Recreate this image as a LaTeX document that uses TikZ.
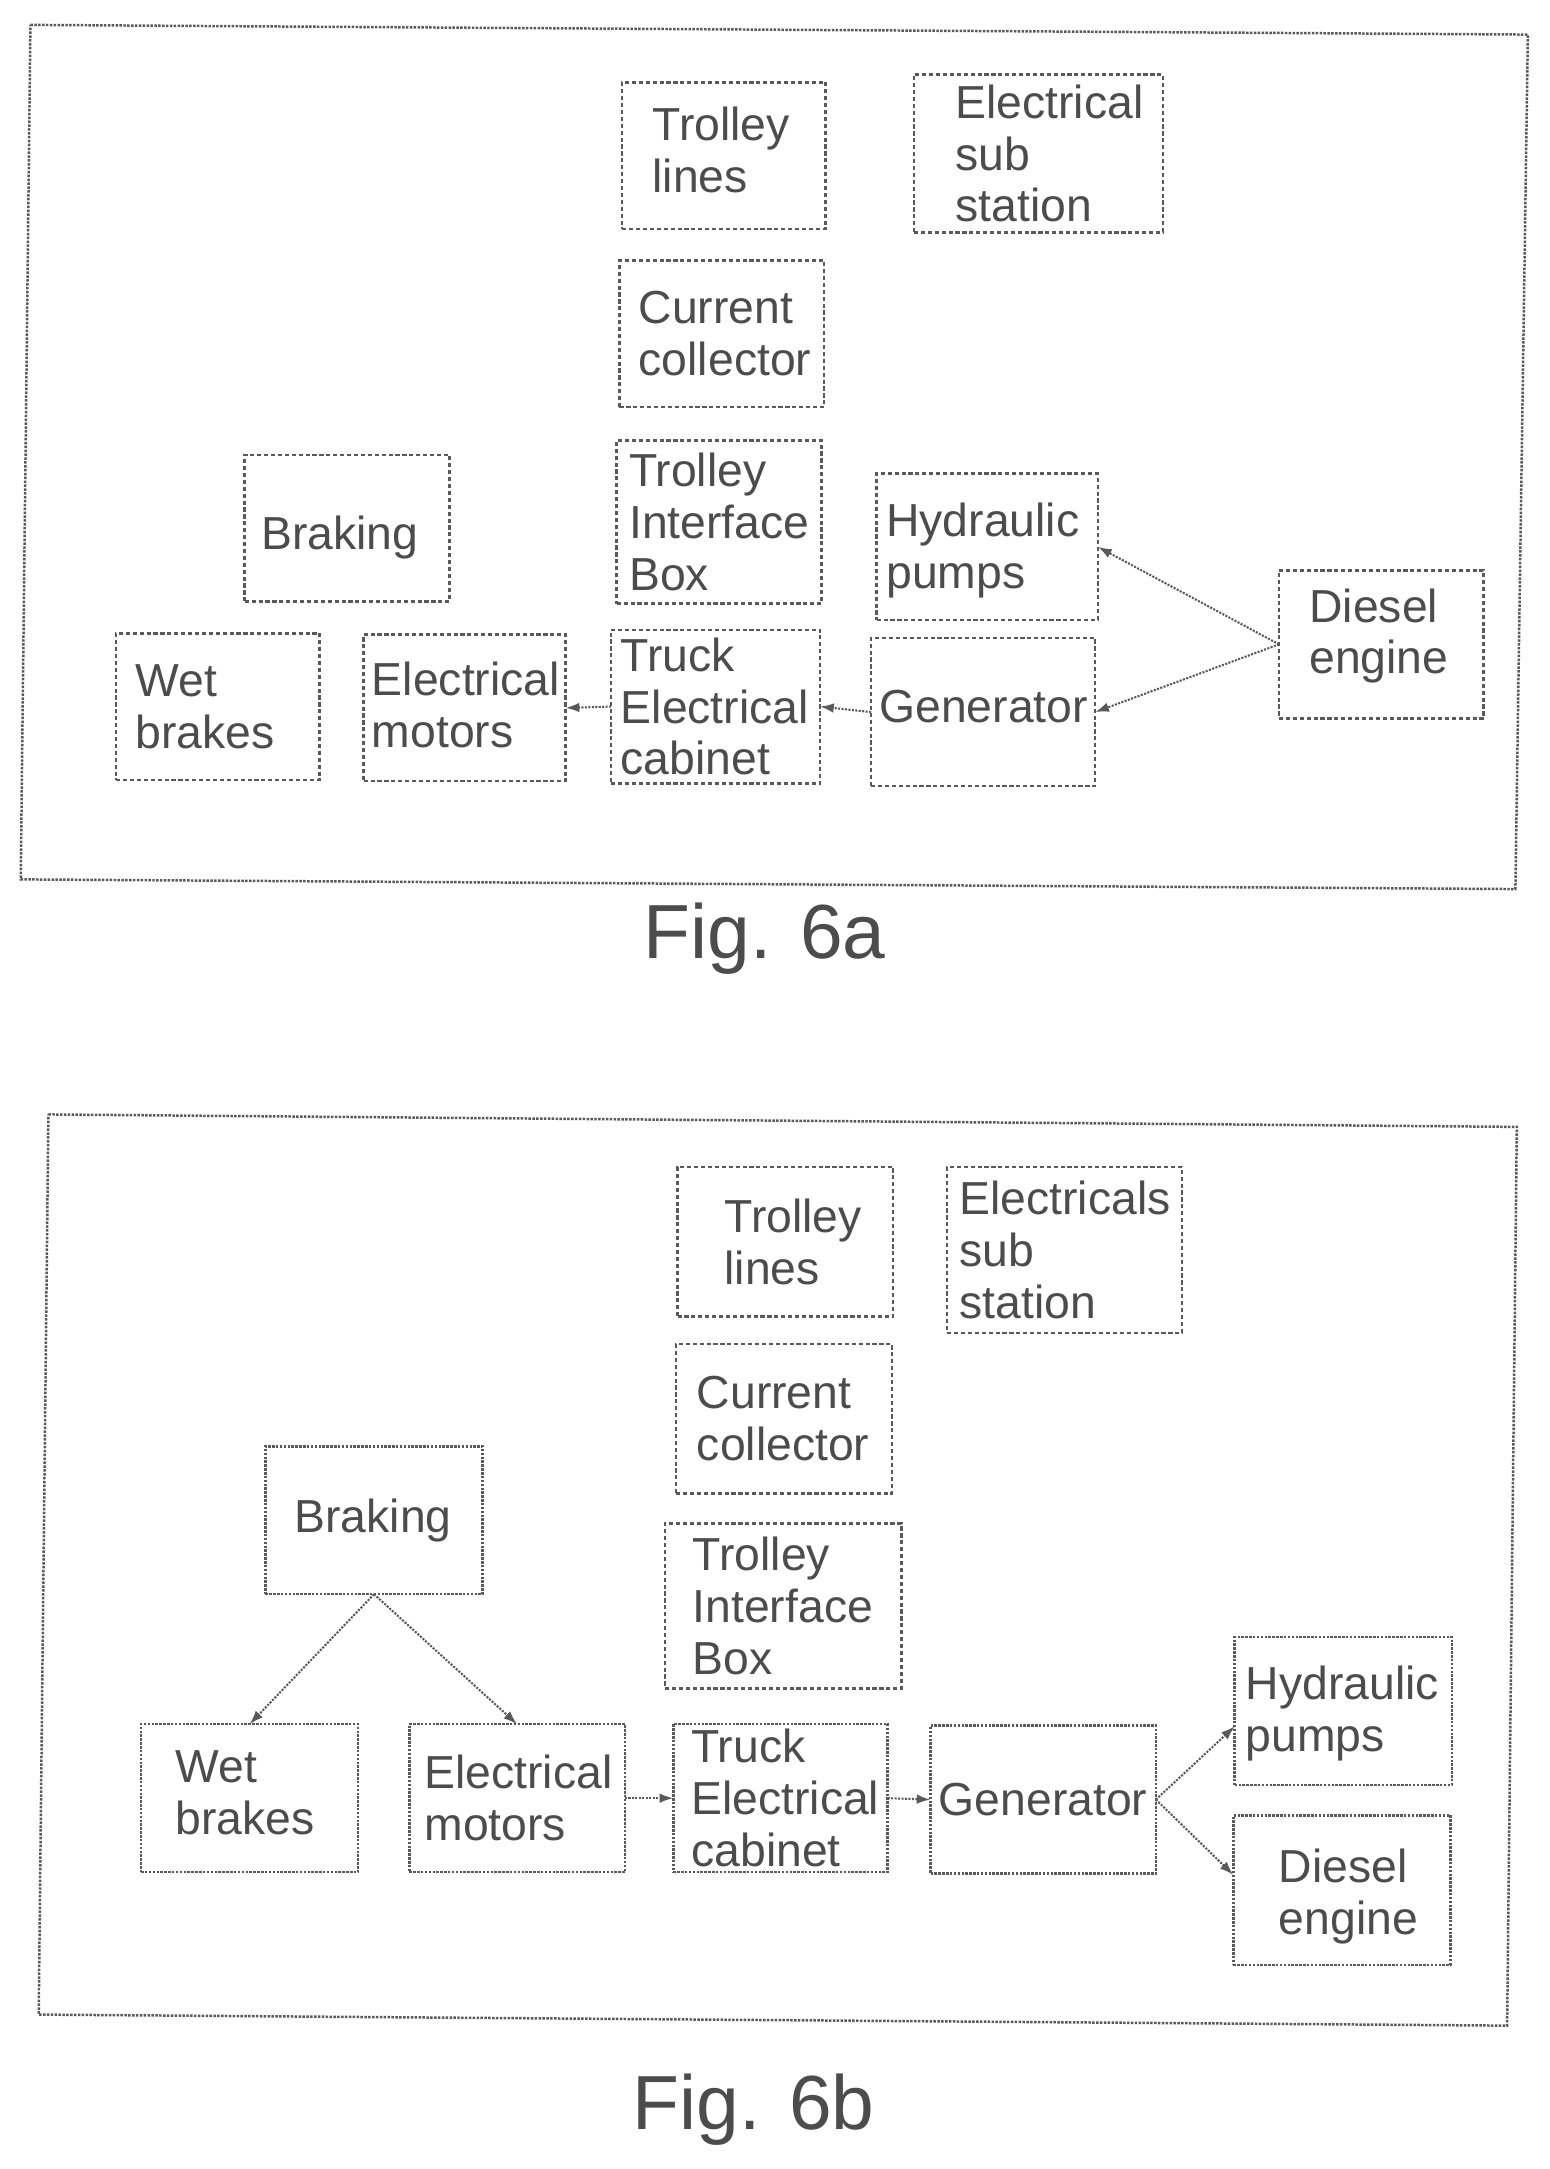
\documentclass[tikz,border=0pt]{standalone}
\usepackage{fontspec}
\setmainfont{Liberation Sans}
\usepackage{tikz}
\usetikzlibrary{arrows.meta}
\usetikzlibrary{positioning}
\usepackage{xcolor}

\begin{document}
\begin{tikzpicture}[x=1pt,y=-1pt]
		\tikzstyle{panel} = [draw=black!65, line width=1.8pt, densely dotted]
		\tikzstyle{unit} = [rectangle, draw=black!65, line width=1.8pt, densely dashed, outer sep=0pt, inner ysep=0pt,
		font=\fontsize{33.5}{37.5}\selectfont, text=black!70, minimum height=106pt, align=left]
		\tikzstyle{solidunit} = [unit, densely dotted]
		\tikzset{boxed/.style 2 args={minimum width=#1pt, inner xsep=#2pt, text width=#1pt-2*#2pt}}
		\tikzset{pushdown/.style={execute at begin node={\rule{0pt}{#1}}}}
		\tikzset{pushup/.style={execute at end node={\par\vspace*{#1}}}}
		\tikzstyle{caption} = [font=\fontsize{55.5}{60}\selectfont, text=black!70]
		\tikzstyle{line} = [draw=black!65, line width=1.5pt, densely dotted, -{Latex[length=10pt, width=7pt]}]
		\useasboundingbox (0,0) rectangle (1121,1568.7);

		% Panel 6a
		\coordinate (pa1) at (22,18);
		\coordinate (pa2) at (1105,25);
		\coordinate (pa3) at (1096,643);
		\coordinate (pa4) at (15,636);
		\draw [panel] (pa1) -- (pa2) -- (pa3) -- (pa4) -- cycle;

		% Supply column
		\node [unit, boxed={147}{22}, pushup=8pt] (tla) at (523.5,112.5) {Trolley\\lines};
		\node [unit, boxed={180}{30}, minimum height=114pt, right=64pt of tla.east, yshift=1.5pt] (ssa) {Electrical\\sub\\station};
		\node [unit, boxed={148}{14}, below=23pt of tla.south, xshift=-1.5pt] (cca) {Current\\collector};
		\node [unit, boxed={148}{9}, minimum height=118pt, below=24pt of cca.south, xshift=-2pt] (iba) {Trolley\\Interface\\Box};

		% Lower row
		\node [unit, boxed={151}{7}, minimum height=111pt, below=19pt of iba.south, xshift=-2.5pt] (tca) {Truck\\Electrical\\cabinet};
		\node [unit, boxed={146}{6}, left=33pt of tca.west, yshift=-1pt, pushup=4pt] (ema) {Electrical\\motors};
		\node [unit, boxed={147}{14}, left=32pt of ema.west, yshift=1pt] (wba) {Wet\\brakes};
		\node [unit, boxed={148}{12}, above=24pt of ema.north, xshift=-85pt, pushdown=38pt] (bra) {Braking};
		\node [unit, boxed={162}{6}, right=37pt of tca.east, yshift=-4pt, minimum height=107pt, pushup=8pt] (gea) {Generator};
		\node [unit, boxed={160}{7}, above=13pt of gea.north, xshift=3pt, pushdown=30pt] (hpa) {Hydraulic\\pumps};
		\node [unit, boxed={148}{22}, minimum height=107pt, right=133pt of gea.east, yshift=49pt, pushup=12pt] (dea) {Diesel\\engine};
		\node [caption] (capa) at (553,679) {Fig. 6a};

		% arrows
		\draw [line] (dea.west) -- (hpa.east);
		\draw [line] (dea.west) -- (gea.east);
		\draw [line] (gea.west) -- (tca.east);
		\draw [line] (tca.west) -- (ema.east);

		% Panel 6b
		\coordinate (pb1) at (35,806);
		\coordinate (pb2) at (1097,815);
		\coordinate (pb3) at (1090,1465);
		\coordinate (pb4) at (28,1457);
		\draw [panel] (pb1) -- (pb2) -- (pb3) -- (pb4) -- cycle;

		% Supply column
		\node [unit, boxed={156}{34}, minimum height=108pt] (tlb) at (568,898) {Trolley\\lines};
		\node [unit, boxed={170}{9}, minimum height=120pt, right=39pt of tlb.east, yshift=-6pt] (ssb) {Electricals\\sub\\station};
		\node [unit, boxed={156}{15}, minimum height=108pt, below=20pt of tlb.south, xshift=-1pt] (ccb) {Current\\collector};
		\node [unit, boxed={171}{20}, minimum height=119pt, below=22pt of ccb.south, xshift=-.5pt] (ibb) {Trolley\\Interface\\Box};

		% Lower row
		\node [solidunit, boxed={155}{13}, minimum height=107pt, below=26pt of ibb.south, xshift=-2pt] (tcb) {Truck\\Electrical\\cabinet};
		\node [solidunit, boxed={156}{11}, minimum height=107pt, left=35pt of tcb.west] (emb) {Electrical\\motors};
		\node [solidunit, boxed={157}{25}, minimum height=107pt, left=37pt of emb.west, pushup=8pt] (wbb) {Wet\\brakes};
		\node [solidunit, boxed={157}{21}, minimum height=107pt, above=94pt of emb.north, xshift=-103.5pt] (brb) {Braking};
		\node [solidunit, boxed={163}{6}, minimum height=107pt, right=31pt of tcb.east, yshift=-1pt] (geb) {Generator};
		\node [solidunit, boxed={157}{8}, minimum height=107pt, right=57pt of geb.east, yshift=64pt, pushdown=28pt] (hpb) {Hydraulic\\pumps};
		\node [solidunit, boxed={157}{33}, minimum height=108pt, below=22pt of hpb.south, xshift=-1pt, pushdown=34pt] (deb) {Diesel\\engine};
		\node [caption] (capb) at (545,1526) {Fig. 6b};

		% arrows
		\draw [line] (brb.south) -- (wbb.north);
		\draw [line] (brb.south) -- (emb.north);
		\draw [line] (emb.east) -- (tcb.west);
		\draw [line] (tcb.east) -- (geb.west);
		\draw [line] (geb.east) -- (hpb.188);
		\draw [line] (geb.east) -- (deb.172);
	\end{tikzpicture}
\end{document}
